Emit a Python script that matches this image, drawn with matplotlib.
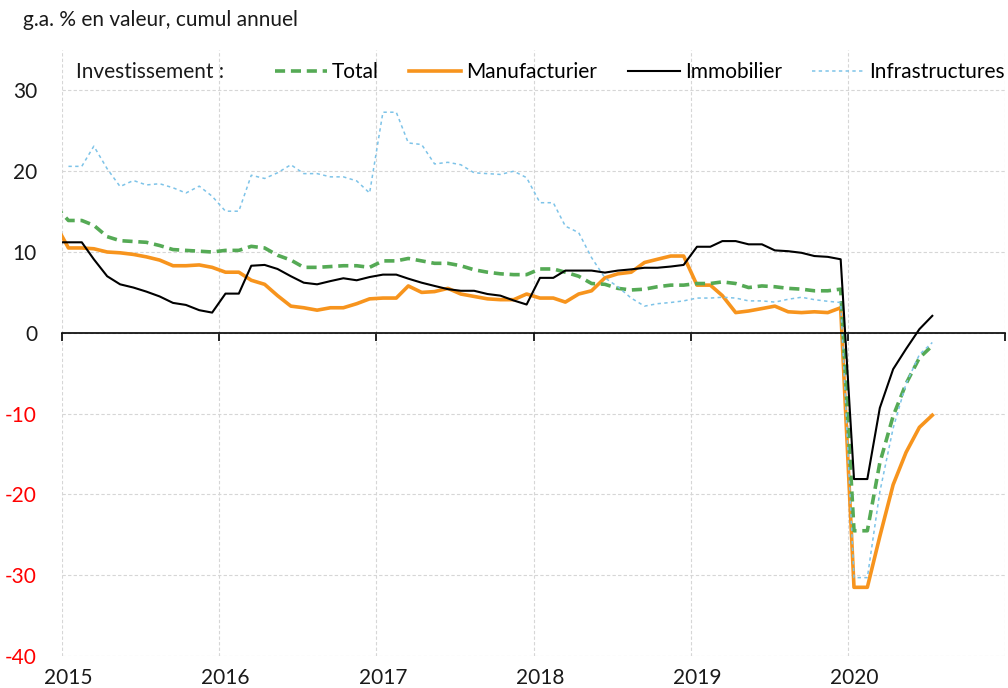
import matplotlib
matplotlib.use('Agg')
import matplotlib.pyplot as plt
import matplotlib.dates as mdates
import numpy as np
import pandas as pd

plt.rcParams['font.family'] = ['Lato', 'DejaVu Sans']

# ---- data (monthly, cumulative y/y %, Dec 2014 -> Jul 2020) ----
start_month = '2014-12-01'
end_month = '2020-07-01'

total = [15.7,
         13.9, 13.9, 13.3, 11.9, 11.4, 11.3, 11.2, 10.8, 10.3, 10.2, 10.1, 10.0,
         10.2, 10.2, 10.7, 10.5, 9.6, 9.0, 8.1, 8.1, 8.2, 8.3, 8.3, 8.1,
         8.9, 8.9, 9.2, 8.9, 8.6, 8.6, 8.3, 7.8, 7.5, 7.3, 7.2, 7.2,
         7.9, 7.9, 7.5, 7.0, 6.1, 6.0, 5.5, 5.3, 5.4, 5.7, 5.9, 5.9,
         6.1, 6.1, 6.3, 6.1, 5.6, 5.8, 5.7, 5.5, 5.4, 5.2, 5.2, 5.4,
         -24.5, -24.5, -16.1, -10.3, -6.3, -3.1, -1.6]

manufacturier = [13.5,
                 10.5, 10.5, 10.4, 10.0, 9.9, 9.7, 9.4, 9.0, 8.3, 8.3, 8.4, 8.1,
                 7.5, 7.5, 6.5, 6.0, 4.6, 3.3, 3.1, 2.8, 3.1, 3.1, 3.6, 4.2,
                 4.3, 4.3, 5.8, 5.0, 5.1, 5.5, 4.8, 4.5, 4.2, 4.1, 4.1, 4.8,
                 4.3, 4.3, 3.8, 4.8, 5.2, 6.8, 7.3, 7.5, 8.7, 9.1, 9.5, 9.5,
                 5.9, 5.9, 4.6, 2.5, 2.7, 3.0, 3.3, 2.6, 2.5, 2.6, 2.5, 3.1,
                 -31.5, -31.5, -25.2, -18.8, -14.8, -11.7, -10.2]

immobilier = [11.2,
              11.2, 11.2, 9.1, 7.0, 6.0, 5.6, 5.1, 4.5, 3.7, 3.45, 2.8, 2.5,
              4.85, 4.85, 8.3, 8.4, 7.9, 7.0, 6.2, 6.0, 6.4, 6.75, 6.5, 6.9,
              7.2, 7.2, 6.7, 6.2, 5.8, 5.4, 5.2, 5.2, 4.8, 4.6, 4.0, 3.5,
              6.8, 6.8, 7.7, 7.7, 7.7, 7.45, 7.7, 7.85, 8.05, 8.05, 8.2, 8.4,
              10.65, 10.65, 11.35, 11.35, 10.95, 10.95, 10.2, 10.1, 9.9, 9.5, 9.4, 9.1,
              -18.1, -18.1, -9.3, -4.5, -2.0, 0.45, 2.1]

infrastructures = [np.nan,
                   20.6, 20.6, 23.1, 20.3, 18.1, 18.85, 18.3, 18.45, 17.95, 17.3, 18.15, 16.9,
                   15.05, 15.05, 19.5, 19.1, 19.8, 20.8, 19.7, 19.7, 19.3, 19.3, 18.8, 17.3,
                   27.3, 27.3, 23.5, 23.3, 20.9, 21.1, 20.8, 19.8, 19.7, 19.6, 20.0, 19.2,
                   16.1, 16.1, 13.2, 12.4, 9.3, 6.8, 5.7, 4.3, 3.3, 3.6, 3.75, 3.95,
                   4.3, 4.3, 4.4, 4.3, 3.95, 3.95, 3.8, 4.15, 4.4, 4.1, 3.9, 3.75,
                   -30.3, -30.3, -19.7, -11.8, -6.3, -2.7, -1.2]

year_labels = [2015, 2016, 2017, 2018, 2019, 2020]
ytick_values = [-40, -30, -20, -10, 0, 10, 20, 30]

title = "g.a. % en valeur, cumul annuel"
legend_intro = "Investissement :"
series_names = ["Total", "Manufacturier", "Immobilier", "Infrastructures"]

# ---- figure ----
dates = pd.date_range(start_month, end_month, freq='MS') + pd.Timedelta(days=15)

W, H = 1008, 688
fig = plt.figure(figsize=(W / 100, H / 100), dpi=100)
ax = fig.add_axes([62 / W, 1 - 656 / H, (1005 - 62) / W, (656 - 50) / H])

l_tot, = ax.plot(dates, total, color='#55AA55', lw=2.6, linestyle=(0, (2.8, 1.6)),
                 label=series_names[0], zorder=3)
l_man, = ax.plot(dates, manufacturier, color='#F7941D', lw=2.6,
                 label=series_names[1], zorder=2)
l_imm, = ax.plot(dates, immobilier, color='black', lw=1.5,
                 label=series_names[2], zorder=4)
l_inf, = ax.plot(dates, infrastructures, color='#7DC3E8', lw=1.1, linestyle=(0, (2.2, 2.2)),
                 label=series_names[3], zorder=3)

ax.set_xlim(pd.Timestamp('2015-01-01'), pd.Timestamp('2021-01-01'))
ax.set_ylim(-40, 35)

ax.xaxis.set_major_locator(mdates.YearLocator())
ax.set_yticks(ytick_values)
ax.set_yticklabels([str(v) for v in ytick_values])
for lab, v in zip(ax.get_yticklabels(), ytick_values):
    lab.set_color('#FF0000' if v < 0 else '#1a1a1a')

ax.grid(True, color='#D6D6D6', linestyle=(0, (3, 2)), lw=0.8)
ax.set_axisbelow(True)

for s in ['top', 'right', 'left']:
    ax.spines[s].set_visible(False)
ax.spines['bottom'].set_position(('data', 0))
ax.spines['bottom'].set_color('black')
ax.spines['bottom'].set_linewidth(1.2)
ax.spines['bottom'].set_zorder(5)

ax.tick_params(axis='x', direction='out', length=6, width=1.2, color='black',
               labelbottom=False)
ax.tick_params(axis='y', length=0, pad=18, labelsize=15)

# year labels at the bottom of the plot, centred on January
xtrans = ax.get_xaxis_transform()
for y in year_labels:
    ax.text(pd.Timestamp(f'{y}-01-16'), -0.036, str(y), transform=xtrans,
            ha='center', va='center', fontsize=15, color='#1a1a1a', clip_on=False)

fig.text(23 / W, 1 - 20 / H, title, ha='left', va='center', fontsize=15, color='#1a1a1a')

ax.text(0.0148, 0.964, legend_intro, transform=ax.transAxes, ha='left', va='center',
        fontsize=15, color='#1a1a1a')
ax.legend(handles=[l_tot, l_man, l_imm, l_inf], ncol=4, loc='center right',
          bbox_to_anchor=(1.0, 0.964), frameon=False, fontsize=15,
          handlelength=2.5, handletextpad=0.25, columnspacing=1.45,
          borderpad=0, borderaxespad=0)

fig.savefig('out.png', dpi=100)
